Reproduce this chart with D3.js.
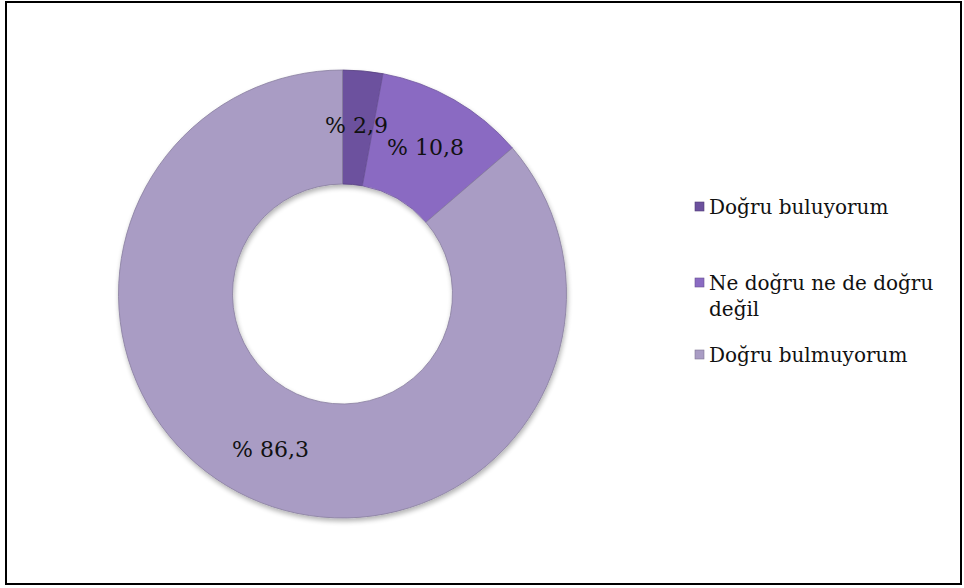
<!DOCTYPE html>
<html>
<head>
<meta charset="utf-8">
<script src="https://cdn.jsdelivr.net/npm/d3@7"></script>
<style>
  body { margin: 0; background: #fff; }
</style>
</head>
<body>
<div id="chart"></div>
<script>
// chart values
let categories = ["Doğru buluyorum", "Ne doğru ne de doğru değil", "Doğru bulmuyorum"];
let values = [2.9, 10.8, 86.3];
let valueLabels = ["% 2,9", "% 10,8", "% 86,3"];
let legendLines = [["Doğru buluyorum"], ["Ne doğru ne de doğru", "değil"], ["Doğru bulmuyorum"]];

let width = 964;
let height = 588;
let cx = 342.5, cy = 294;
let outerR = 224, innerR = 110;
let serif = "'DejaVu Serif', 'Noto Serif', serif";

let colors = ["#6c519e", "#8a6bc2", "#a99cc4"];

let svg = d3.select("#chart").append("svg")
  .attr("width", width)
  .attr("height", height);

// outer frame
svg.append("rect")
  .attr("x", 6).attr("y", 2)
  .attr("width", 955).attr("height", 582)
  .attr("fill", "#fff")
  .attr("stroke", "#000")
  .attr("stroke-width", 2);

// soft drop shadow like the office bevel
let defs = svg.append("defs");
let shadow = defs.append("filter").attr("id", "shadow")
  .attr("x", "-10%").attr("y", "-10%").attr("width", "120%").attr("height", "120%");
shadow.append("feGaussianBlur").attr("in", "SourceAlpha").attr("stdDeviation", 2.5);
shadow.append("feOffset").attr("dx", 1).attr("dy", 3).attr("result", "off");
shadow.append("feComponentTransfer").attr("result", "blur")
  .append("feFuncA").attr("type", "linear").attr("slope", 0.3);
let merge = shadow.append("feMerge");
merge.append("feMergeNode").attr("in", "blur");
merge.append("feMergeNode").attr("in", "SourceGraphic");

let pie = d3.pie().sort(null).value(function(d) { return d; });
let arc = d3.arc().innerRadius(innerR).outerRadius(outerR);
let arcs = pie(values);

let donut = svg.append("g")
  .attr("transform", "translate(" + cx + "," + cy + ")")
  .attr("filter", "url(#shadow)");

donut.selectAll("path")
  .data(arcs)
  .enter().append("path")
  .attr("d", arc)
  .style("fill", function(d, i) { return colors[i]; })
  .style("stroke", function(d, i) { return d3.color(colors[i]).darker(0.6); })
  .style("stroke-width", 0.8);

// value labels (offsets from donut centre)
let labelPos = [[14, -161], [83, -139], [-72, 163]];
svg.append("g").selectAll("text")
  .data(valueLabels)
  .enter().append("text")
  .attr("x", function(d, i) { return cx + labelPos[i][0]; })
  .attr("y", function(d, i) { return cy + labelPos[i][1]; })
  .attr("text-anchor", "middle")
  .attr("font-family", serif)
  .attr("font-size", 22)
  .attr("fill", "#111")
  .text(function(d) { return d; });

// legend
let legendY = [207, 283, 355];
let legend = svg.append("g").selectAll("g")
  .data(categories)
  .enter().append("g")
  .attr("transform", function(d, i) { return "translate(695," + legendY[i] + ")"; });
legend.append("rect")
  .attr("x", 0).attr("y", -5)
  .attr("width", 9).attr("height", 9)
  .style("fill", function(d, i) { return colors[i]; })
  .style("stroke", function(d, i) { return d3.color(colors[i]).darker(0.8); })
  .style("stroke-width", 0.6);
legend.append("text")
  .attr("y", 7)
  .attr("font-family", serif)
  .attr("font-size", 20)
  .attr("fill", "#111")
  .selectAll("tspan")
  .data(function(d, i) { return legendLines[i]; })
  .enter().append("tspan")
  .attr("x", 14)
  .attr("dy", function(d, j) { return j == 0 ? 0 : 26; })
  .text(function(d) { return d; });
</script>
</body>
</html>
